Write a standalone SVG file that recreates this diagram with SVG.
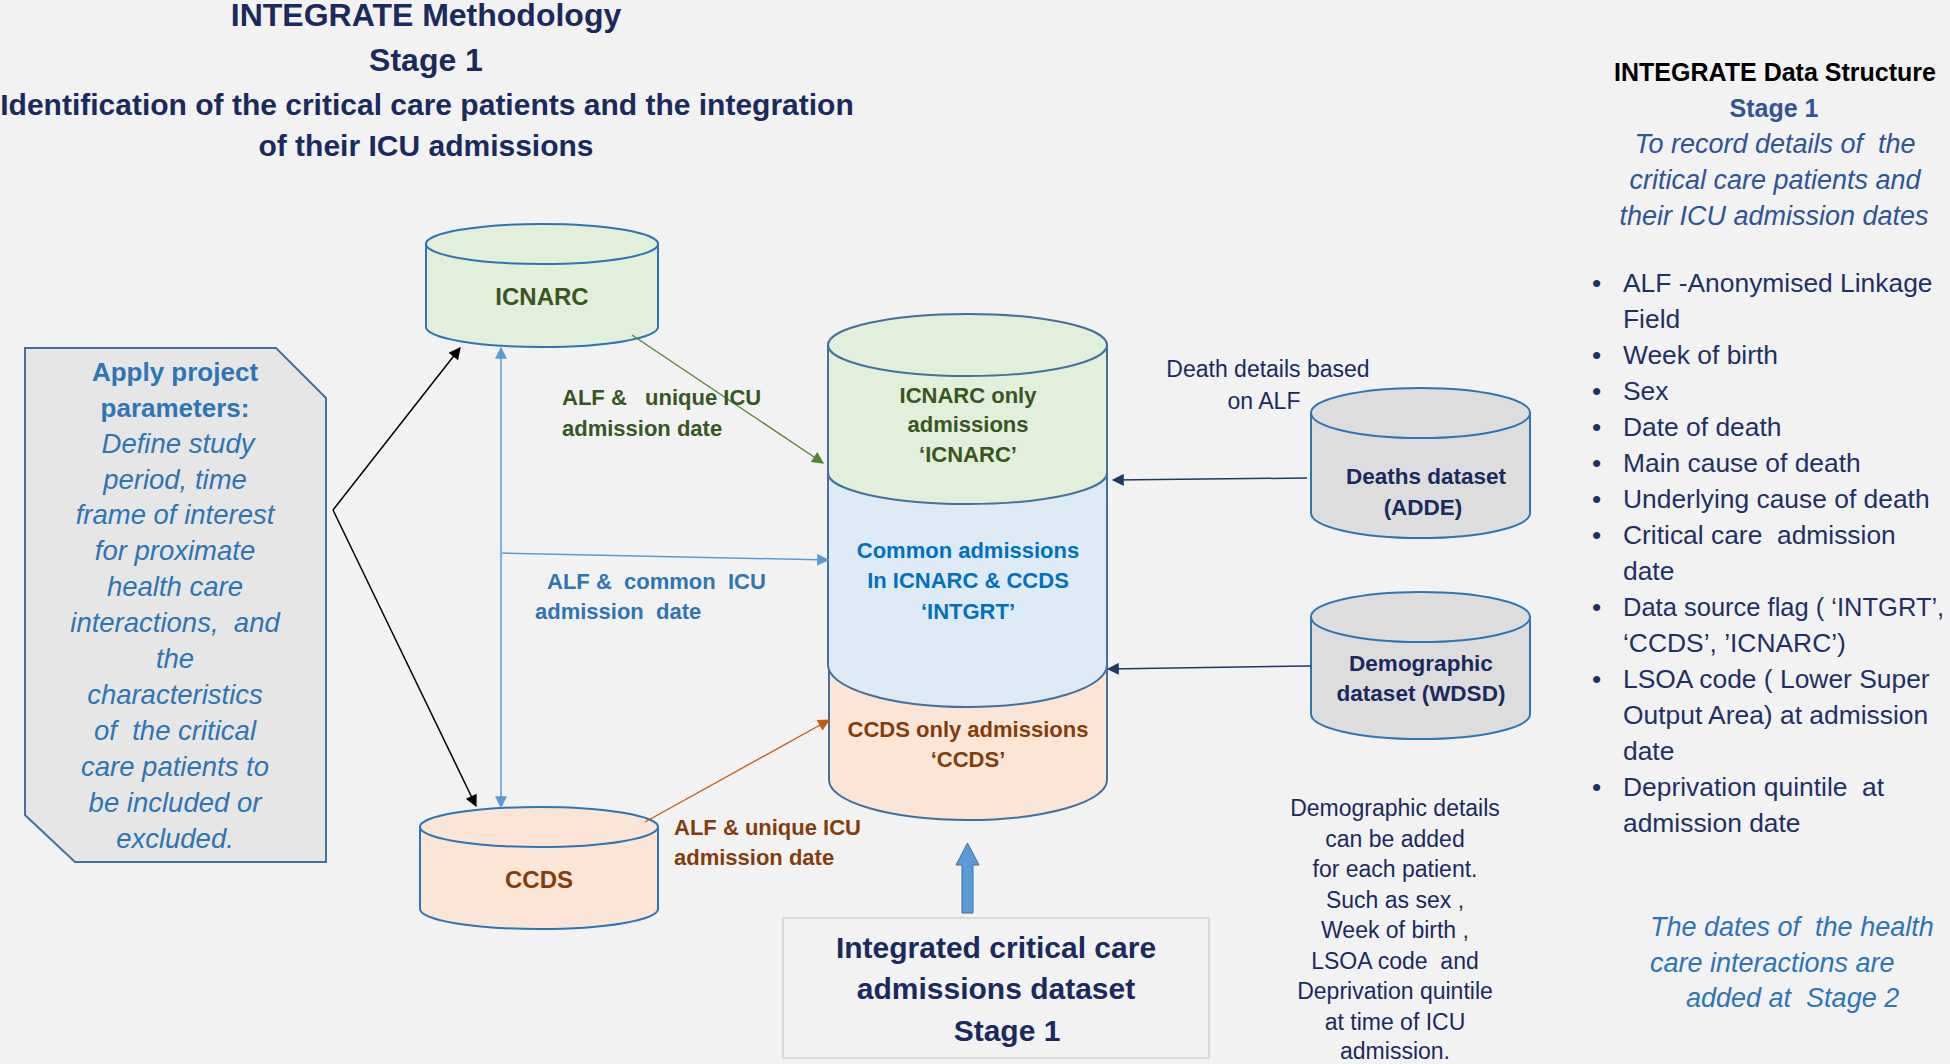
<svg xmlns="http://www.w3.org/2000/svg" width="1950" height="1064" viewBox="0 0 1950 1064">
<defs>
<style>
text{font-family:"Liberation Sans",Arial,sans-serif;white-space:pre}
.b{font-weight:bold}
.i{font-style:italic}
.c{text-anchor:middle}
.navy{fill:#1B2A5E}
.blue{fill:#2E75B6}
.mblue{fill:#2F5597}
.green{fill:#375623}
.brown{fill:#843C0C}
.cb{fill:#0070C0}
.cyl{stroke:#2E75B6;stroke-width:2}
.stk{stroke:#41719C;stroke-width:2}
.ln{fill:none}
</style>
<marker id="mk" viewBox="0 0 10 10" refX="9" refY="5" markerWidth="14" markerHeight="12" markerUnits="userSpaceOnUse" orient="auto-start-reverse"><path d="M0,0 L10,5 L0,10 Z" fill="#000"/></marker>
<marker id="mb" viewBox="0 0 10 10" refX="9" refY="5" markerWidth="14" markerHeight="12" markerUnits="userSpaceOnUse" orient="auto-start-reverse"><path d="M0,0 L10,5 L0,10 Z" fill="#5B9BD5"/></marker>
<marker id="mg" viewBox="0 0 10 10" refX="9" refY="5" markerWidth="14" markerHeight="12" markerUnits="userSpaceOnUse" orient="auto-start-reverse"><path d="M0,0 L10,5 L0,10 Z" fill="#548235"/></marker>
<marker id="mo" viewBox="0 0 10 10" refX="9" refY="5" markerWidth="14" markerHeight="12" markerUnits="userSpaceOnUse" orient="auto-start-reverse"><path d="M0,0 L10,5 L0,10 Z" fill="#C55A11"/></marker>
<marker id="mn" viewBox="0 0 10 10" refX="9" refY="5" markerWidth="14" markerHeight="12" markerUnits="userSpaceOnUse" orient="auto-start-reverse"><path d="M0,0 L10,5 L0,10 Z" fill="#203864"/></marker>
</defs>
<rect x="0" y="0" width="1950" height="1064" fill="#F2F2F2"/>

<g id="title">
<text class="b c navy" x="426" y="26" font-size="32">INTEGRATE Methodology</text>
<text class="b c navy" x="426" y="71" font-size="32">Stage 1</text>
<text class="b c navy" x="427" y="115" font-size="30">Identification of the critical care patients and the integration</text>
<text class="b c navy" x="426" y="156" font-size="30">of their ICU admissions</text>
</g>

<g id="structure-header">
<text class="b c" x="1775" y="81" font-size="25" fill="#000">INTEGRATE Data Structure</text>
<text class="b c mblue" x="1774" y="117" font-size="25">Stage 1</text>
<text class="i c mblue" x="1775" y="153" font-size="27">To record details of  the</text>
<text class="i c mblue" x="1775" y="189" font-size="27">critical care patients and</text>
<text class="i c mblue" x="1774" y="225" font-size="27">their ICU admission dates</text>
</g>

<g id="structure-list" font-size="26.4" fill="#1F3064">
<text x="1592" y="292">•</text><text x="1623" y="292">ALF -Anonymised Linkage</text>
<text x="1623" y="328">Field</text>
<text x="1592" y="364">•</text><text x="1623" y="364">Week of birth</text>
<text x="1592" y="400">•</text><text x="1623" y="400">Sex</text>
<text x="1592" y="436">•</text><text x="1623" y="436">Date of death</text>
<text x="1592" y="472">•</text><text x="1623" y="472">Main cause of death</text>
<text x="1592" y="508">•</text><text x="1623" y="508">Underlying cause of death</text>
<text x="1592" y="544">•</text><text x="1623" y="544">Critical care  admission</text>
<text x="1623" y="580">date</text>
<text x="1592" y="616">•</text><text x="1623" y="616" font-size="25.5">Data source flag ( ‘INTGRT’,</text>
<text x="1623" y="652">‘CCDS’, ’ICNARC’)</text>
<text x="1592" y="688">•</text><text x="1623" y="688">LSOA code ( Lower Super</text>
<text x="1623" y="724">Output Area) at admission</text>
<text x="1623" y="760">date</text>
<text x="1592" y="796">•</text><text x="1623" y="796">Deprivation quintile  at</text>
<text x="1623" y="832">admission date</text>
</g>

<g id="stage2-note">
<text class="i blue" x="1650" y="936" font-size="27">The dates of  the health</text>
<text class="i blue" x="1650" y="972" font-size="27">care interactions are</text>
<text class="i blue" x="1686" y="1007" font-size="27">added at  Stage 2</text>
</g>

<g id="parameters">
<polygon points="25,348 276,348 326,398 326,862 75,862 25,815" fill="#E7E6E6" class="stk"/>
<text class="b c blue" x="175" y="381" font-size="26">Apply project</text>
<text class="b c blue" x="175" y="417" font-size="26">parameters:</text>
<g class="i c blue" font-size="27.5">
<text x="178" y="453">Define study</text>
<text x="175" y="489">period, time</text>
<text x="175" y="524">frame of interest</text>
<text x="175" y="560">for proximate</text>
<text x="175" y="596">health care</text>
<text x="175" y="632">interactions,  and</text>
<text x="175" y="668">the</text>
<text x="175" y="704">characteristics</text>
<text x="175" y="740">of  the critical</text>
<text x="175" y="776">care patients to</text>
<text x="175" y="812">be included or</text>
<text x="175" y="848">excluded.</text>
</g>
</g>

<g id="icnarc">
<path d="M426 244 V327 A116 20 0 0 0 658 327 V244 Z" fill="#E2EFDA" class="cyl"/>
<ellipse cx="542" cy="244" rx="116" ry="20" fill="#E2EFDA" class="cyl"/>
<text class="b c green" x="542" y="305" font-size="24">ICNARC</text>
</g>

<g id="ccds">
<path d="M420 827 V909 A119 20 0 0 0 658 909 V827 Z" fill="#FBE5D6" class="cyl"/>
<ellipse cx="539" cy="827" rx="119" ry="20" fill="#FBE5D6" class="cyl"/>
<text class="b c brown" x="539" y="888" font-size="24">CCDS</text>
</g>

<g id="integrated-store">
<path d="M829 600 V780 A139 40 0 0 0 1107 780 V600 Z" fill="#FBE5D6" class="stk"/>
<path d="M828 440 V665 A139.5 42 0 0 0 1107 665 V440 Z" fill="#DEEBF7" class="stk"/>
<path d="M828 345 V473 A139.5 31 0 0 0 1107 473 V345 Z" fill="#E2EFDA" class="stk"/>
<ellipse cx="967.5" cy="345" rx="139.5" ry="31" fill="#E2EFDA" class="stk"/>
<g class="b c" font-size="22">
<text class="green" x="968" y="403">ICNARC only</text>
<text class="green" x="968" y="432">admissions</text>
<text class="green" x="968" y="462">‘ICNARC’</text>
<text class="cb" x="968" y="558">Common admissions</text>
<text class="cb" x="968" y="588">In ICNARC &amp; CCDS</text>
<text class="cb" x="968" y="619">‘INTGRT’</text>
<text class="brown" x="968" y="737">CCDS only admissions</text>
<text class="brown" x="968" y="767">‘CCDS’</text>
</g>
</g>

<g id="deaths">
<path d="M1311 413 V513 A109.5 25 0 0 0 1530 513 V413 Z" fill="#DDDDDD" class="cyl"/>
<ellipse cx="1420.5" cy="413" rx="109.5" ry="25" fill="#DDDDDD" class="cyl"/>
<text class="b c navy" x="1426" y="484" font-size="22.5">Deaths dataset</text>
<text class="b c navy" x="1423" y="515" font-size="22.5">(ADDE)</text>
</g>

<g id="demographic">
<path d="M1311 617 V714 A109.5 25 0 0 0 1530 714 V617 Z" fill="#DDDDDD" class="cyl"/>
<ellipse cx="1420.5" cy="617" rx="109.5" ry="25" fill="#DDDDDD" class="cyl"/>
<text class="b c navy" x="1421" y="671" font-size="22.5">Demographic</text>
<text class="b c navy" x="1421" y="701" font-size="22.5">dataset (WDSD)</text>
</g>

<g id="output">
<polygon points="967.5,843 979,865 973,865 973,913 962,913 962,865 956,865" fill="#5B9BD5" stroke="#41719C" stroke-width="1"/>
<rect x="783" y="918" width="426" height="140" fill="#F2F2F2" stroke="#D9D9D9" stroke-width="2"/>
<text class="b c navy" x="996" y="958" font-size="30">Integrated critical care</text>
<text class="b c navy" x="996" y="999" font-size="30">admissions dataset</text>
<text class="b c navy" x="1007" y="1041" font-size="30">Stage 1</text>
</g>

<g id="notes">
<text class="c navy" x="1268" y="377" font-size="23">Death details based</text>
<text class="c navy" x="1264" y="409" font-size="23">on ALF</text>
<g class="c navy" font-size="23">
<text x="1395" y="816">Demographic details</text>
<text x="1395" y="847">can be added</text>
<text x="1395" y="877">for each patient.</text>
<text x="1395" y="908">Such as sex ,</text>
<text x="1395" y="938">Week of birth ,</text>
<text x="1395" y="969">LSOA code  and</text>
<text x="1395" y="999">Deprivation quintile</text>
<text x="1395" y="1030">at time of ICU</text>
<text x="1395" y="1059">admission.</text>
</g>
</g>

<g id="connectors" class="ln">
<line x1="333" y1="510" x2="460" y2="348" stroke="#000" stroke-width="1.5" marker-end="url(#mk)"/>
<line x1="333" y1="510" x2="476" y2="806" stroke="#000" stroke-width="1.5" marker-end="url(#mk)"/>
<line x1="501" y1="348" x2="501" y2="807" stroke="#5B9BD5" stroke-width="1.5" marker-start="url(#mb)" marker-end="url(#mb)"/>
<line x1="502" y1="553" x2="828" y2="560" stroke="#5B9BD5" stroke-width="1.5" marker-end="url(#mb)"/>
<line x1="632" y1="335" x2="823" y2="463" stroke="#548235" stroke-width="1.3" marker-end="url(#mg)"/>
<line x1="645" y1="822" x2="829" y2="720" stroke="#C55A11" stroke-width="1.3" marker-end="url(#mo)"/>
<line x1="1307" y1="478" x2="1113" y2="480" stroke="#203864" stroke-width="1.5" marker-end="url(#mn)"/>
<line x1="1311" y1="666" x2="1108" y2="669" stroke="#203864" stroke-width="1.5" marker-end="url(#mn)"/>
</g>

<g id="connector-labels" class="b" font-size="22">
<text class="green" x="562" y="405">ALF &amp;   unique ICU</text>
<text class="green" x="562" y="436">admission date</text>
<text class="blue" x="547" y="589">ALF &amp;  common  ICU</text>
<text class="blue" x="535" y="619">admission  date</text>
<text class="brown" x="674" y="835">ALF &amp; unique ICU</text>
<text class="brown" x="674" y="865">admission date</text>
</g>
</svg>
